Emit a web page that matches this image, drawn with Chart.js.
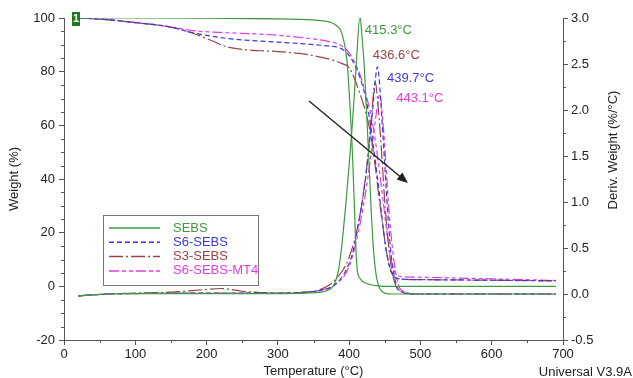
<!DOCTYPE html>
<html lang="en">
<head>
<meta charset="UTF-8">
<title>TGA / DTG - SEBS samples</title>
<script src="https://cdn.jsdelivr.net/npm/chart.js"></script>
<style>
    body { margin: 0; background: #ffffff; }
    #tgaChart { display: block; }
</style>
</head>
<body>
<canvas id="tgaChart" width="633" height="378"></canvas>
<script>
    const seriesNames = ['SEBS', 'S6-SEBS', 'S3-SEBS', 'S6-SEBS-MT4'];

    // weight loss curves (left axis, %)
    const sebsWtTemp = [20, 100, 200, 300, 340, 360, 375, 383, 388, 392, 397, 401, 405, 408, 410, 412, 415, 420, 430, 440, 460, 550, 690];
    const sebsWt     = [100, 100, 99.9, 99.7, 99.4, 99.0, 98.3, 97.0, 95.5, 92, 84, 68, 47, 25, 11, 5, 3, 1.6, 0.6, 0.2, 0, 0, 0];

    const s6WtTemp = [20, 60, 100, 150, 181, 228, 275, 330, 369, 387, 400, 415, 425, 430, 435, 440, 445, 450, 455, 460, 465, 470, 480, 550, 620, 690];
    const s6Wt     = [100, 99.4, 98.3, 96.6, 94.5, 92.4, 91.4, 90.5, 89.6, 88.8, 86, 78, 68, 60, 50, 40, 28, 17, 9, 5, 3.3, 2.8, 2.6, 2.4, 2.2, 2.0];

    const s3WtTemp = [20, 60, 100, 150, 181, 205, 228, 250, 275, 300, 345, 377, 390, 400, 415, 425, 430, 436, 442, 448, 453, 458, 463, 470, 500, 600, 690];
    const s3Wt     = [100, 99.4, 98.3, 96.6, 94.3, 91.8, 89.3, 88.3, 87.8, 87.5, 86.2, 84.3, 83, 81.5, 72, 63, 57, 46, 33, 21, 12, 6, 3.5, 2.8, 2.5, 2.3, 2.1];

    const mt4WtTemp = [20, 60, 100, 150, 181, 230, 275, 330, 369, 387, 400, 415, 425, 432, 438, 443, 448, 453, 458, 463, 468, 475, 500, 600, 690];
    const mt4Wt     = [100, 99.4, 98.3, 96.7, 95.3, 94.5, 94, 92.8, 91.4, 90, 87, 79, 70, 62, 52, 42, 31, 20, 11, 6, 4, 3.6, 3.4, 2.8, 2.2];

    // derivative weight curves (right axis, %/°C)
    const sebsDtgTemp = [20, 40, 60, 100, 200, 300, 340, 360, 370, 380, 386, 390, 395, 400, 405, 410, 415.3, 418, 421, 425, 428, 431, 434, 438, 443, 450, 460, 550, 690];
    const sebsDtg     = [-0.02, -0.01, 0, 0.005, 0.005, 0.005, 0.01, 0.02, 0.04, 0.12, 0.3, 0.55, 0.95, 1.4, 1.9, 2.5, 3.02, 2.8, 2.5, 1.9, 1.4, 0.9, 0.5, 0.2, 0.06, 0.01, 0, 0, 0];

    const s6DtgTemp = [20, 40, 60, 100, 200, 300, 340, 360, 380, 395, 405, 415, 422, 428, 433, 437, 439.7, 442, 446, 450, 454, 458, 462, 467, 475, 490, 690];
    const s6Dtg     = [-0.02, -0.01, 0, 0.005, 0.01, 0.01, 0.02, 0.04, 0.1, 0.25, 0.45, 0.85, 1.2, 1.6, 2.0, 2.35, 2.47, 2.35, 1.9, 1.4, 0.9, 0.5, 0.25, 0.08, 0.02, 0, 0];

    const s3DtgTemp = [20, 40, 60, 100, 150, 200, 220, 250, 300, 340, 360, 380, 400, 415, 425, 431, 436.6, 440, 445, 450, 455, 460, 466, 475, 490, 690];
    const s3Dtg     = [-0.02, -0.01, 0, 0.01, 0.02, 0.05, 0.06, 0.03, 0.01, 0.02, 0.05, 0.15, 0.4, 0.85, 1.4, 1.9, 2.3, 2.1, 1.6, 1.0, 0.55, 0.25, 0.08, 0.02, 0, 0];

    const mt4DtgTemp = [20, 40, 60, 100, 200, 300, 340, 360, 380, 400, 415, 425, 432, 437, 443.1, 446, 450, 455, 460, 465, 470, 480, 490, 690];
    const mt4Dtg     = [-0.02, -0.01, 0, 0.005, 0.01, 0.01, 0.02, 0.04, 0.1, 0.3, 0.75, 1.2, 1.6, 1.9, 2.17, 2.0, 1.6, 1.0, 0.55, 0.25, 0.08, 0.02, 0, 0];

    // peak temperatures written next to the DTG peaks
    const peakLabels = ['415.3°C', '436.6°C', '439.7°C', '443.1°C'];
    const peakLabelSeries = [0, 2, 1, 3]; // which series colour each label uses
    const peakLabelPos = [[422, 2.87], [433, 2.59], [453, 2.34], [466, 2.13]]; // [temp, deriv] of label left/middle

    const colors = ['#3f9a3f', '#3b3bd6', '#9a4444', '#e03ee0'];
    const dashes = [[], [5, 3], [14, 3, 2, 3], [10, 3, 4, 3, 4, 3]];
    const textColor = '#222';
    const axisColor = '#555';
    const fontFamily = 'Arial, "Liberation Sans", sans-serif';

    function toPoints(temps, vals) {
        return temps.map((t, i) => ({ x: t, y: vals[i] }));
    }

    const wtSets = [[sebsWtTemp, sebsWt], [s6WtTemp, s6Wt], [s3WtTemp, s3Wt], [mt4WtTemp, mt4Wt]];
    const dtgSets = [[sebsDtgTemp, sebsDtg], [s6DtgTemp, s6Dtg], [s3DtgTemp, s3Dtg], [mt4DtgTemp, mt4Dtg]];

    const datasets = [];
    seriesNames.forEach((name, i) => {
        const common = {
            borderColor: colors[i],
            borderWidth: 1.2,
            borderDash: dashes[i],
            pointRadius: 0,
            fill: false,
            cubicInterpolationMode: 'monotone'
        };
        datasets.push(Object.assign({ label: name, yAxisID: 'y', data: toPoints(wtSets[i][0], wtSets[i][1]) }, common));
        datasets.push(Object.assign({ label: name + ' DTG', yAxisID: 'y2', data: toPoints(dtgSets[i][0], dtgSets[i][1]) }, common));
    });

    // minor ticks, legend box, labels, arrow
    const decorations = {
        id: 'decorations',
        afterDraw(chart) {
            const { ctx, chartArea: a, scales: { x, y, y2 } } = chart;
            ctx.save();

            // minor ticks
            ctx.strokeStyle = axisColor;
            ctx.lineWidth = 1;
            ctx.beginPath();
            for (let t = 50; t < 700; t += 100) {
                const px = Math.round(x.getPixelForValue(t)) + 0.5;
                ctx.moveTo(px, a.bottom); ctx.lineTo(px, a.bottom + 3);
            }
            for (let w = -15; w < 100; w += 5) {
                if (w % 20 === 0) continue;
                const py = Math.round(y.getPixelForValue(w)) + 0.5;
                ctx.moveTo(a.left, py); ctx.lineTo(a.left - 3, py);
            }
            for (let d = -0.25; d < 3; d += 0.5) {
                const py = Math.round(y2.getPixelForValue(d)) + 0.5;
                ctx.moveTo(a.right, py); ctx.lineTo(a.right + 3, py);
            }
            ctx.stroke();

            // right axis title, reads bottom to top
            ctx.font = '13px ' + fontFamily;
            ctx.fillStyle = textColor;
            ctx.textAlign = 'center';
            ctx.textBaseline = 'middle';
            ctx.save();
            ctx.translate(613, 150);
            ctx.rotate(-Math.PI / 2);
            ctx.fillText('Deriv. Weight (%/°C)', 0, 0);
            ctx.restore();

            // instrument tag
            ctx.textAlign = 'right';
            ctx.fillText('Universal V3.9A', 632, 372);

            // start marker "1"
            ctx.fillStyle = '#1c7c1c';
            ctx.fillRect(a.left + 8, a.top - 6, 8, 14);
            ctx.fillStyle = '#fff';
            ctx.font = 'bold 11px ' + fontFamily;
            ctx.textAlign = 'center';
            ctx.fillText('1', a.left + 12, a.top + 1);

            // peak labels
            ctx.font = '13px ' + fontFamily;
            ctx.textAlign = 'left';
            peakLabels.forEach((txt, i) => {
                ctx.fillStyle = colors[peakLabelSeries[i]];
                ctx.fillText(txt, x.getPixelForValue(peakLabelPos[i][0]), y2.getPixelForValue(peakLabelPos[i][1]));
            });

            // arrow
            const x0 = x.getPixelForValue(343.7), y0 = y.getPixelForValue(69.1);
            const x1 = x.getPixelForValue(482.5), y1 = y.getPixelForValue(38.5);
            const ang = Math.atan2(y1 - y0, x1 - x0);
            ctx.strokeStyle = '#222';
            ctx.fillStyle = '#222';
            ctx.lineWidth = 1.4;
            ctx.beginPath();
            ctx.moveTo(x0, y0);
            ctx.lineTo(x1 - 8 * Math.cos(ang), y1 - 8 * Math.sin(ang));
            ctx.stroke();
            ctx.beginPath();
            ctx.moveTo(x1, y1);
            ctx.lineTo(x1 - 11 * Math.cos(ang) + 4.5 * Math.sin(ang), y1 - 11 * Math.sin(ang) - 4.5 * Math.cos(ang));
            ctx.lineTo(x1 - 11 * Math.cos(ang) - 4.5 * Math.sin(ang), y1 - 11 * Math.sin(ang) + 4.5 * Math.cos(ang));
            ctx.closePath();
            ctx.fill();

            // legend box
            const lx = a.left + 39, ly = 215, lw = 155, lh = 70;
            ctx.fillStyle = '#fff';
            ctx.fillRect(lx, ly, lw, lh);
            ctx.strokeStyle = '#777';
            ctx.lineWidth = 1;
            ctx.strokeRect(lx + 0.5, ly + 0.5, lw, lh);
            ctx.font = '13px ' + fontFamily;
            ctx.textAlign = 'left';
            seriesNames.forEach((name, i) => {
                const rowY = ly + 13 + i * 14.3;
                ctx.strokeStyle = colors[i];
                ctx.lineWidth = 1.5;
                ctx.setLineDash(dashes[i]);
                ctx.beginPath();
                ctx.moveTo(lx + 6, rowY);
                ctx.lineTo(lx + 57, rowY);
                ctx.stroke();
                ctx.setLineDash([]);
                ctx.fillStyle = colors[i];
                ctx.fillText(name, lx + 70, rowY);
            });

            ctx.restore();
        }
    };

    const tickFont = { family: fontFamily, size: 13 };

    new Chart(document.getElementById('tgaChart'), {
        type: 'line',
        data: { datasets: datasets },
        options: {
            responsive: false,
            animation: false,
            layout: { padding: { top: 18, left: 0, right: 0, bottom: 0 } },
            plugins: { legend: { display: false }, tooltip: { enabled: false } },
            scales: {
                x: {
                    type: 'linear',
                    min: 0, max: 700,
                    afterFit: s => { s.height = 38; },
                    ticks: { stepSize: 100, padding: 2, color: textColor, font: tickFont, maxRotation: 0 },
                    grid: { drawOnChartArea: false, drawTicks: true, tickLength: 5, color: axisColor },
                    border: { display: true, color: axisColor },
                    title: { display: true, text: 'Temperature (°C)', color: textColor, padding: 0,
                             font: { family: fontFamily, size: 13, lineHeight: 1 } }
                },
                y: {
                    position: 'left',
                    min: -20, max: 100,
                    afterFit: s => { s.width = 64; },
                    ticks: { stepSize: 20, padding: 4, color: textColor, font: tickFont },
                    grid: { drawOnChartArea: false, drawTicks: true, tickLength: 5, color: axisColor },
                    border: { display: true, color: axisColor },
                    title: { display: true, text: 'Weight (%)', color: textColor, padding: { top: 7, bottom: 0 },
                             font: { family: fontFamily, size: 13 } }
                },
                y2: {
                    position: 'right',
                    min: -0.5, max: 3.0,
                    afterFit: s => { s.width = 70; },
                    ticks: { stepSize: 0.5, padding: 3, color: textColor, font: tickFont,
                             callback: v => v.toFixed(1) },
                    grid: { drawOnChartArea: false, drawTicks: true, tickLength: 5, color: axisColor },
                    border: { display: true, color: axisColor }
                }
            }
        },
        plugins: [decorations]
    });
</script>
</body>
</html>
